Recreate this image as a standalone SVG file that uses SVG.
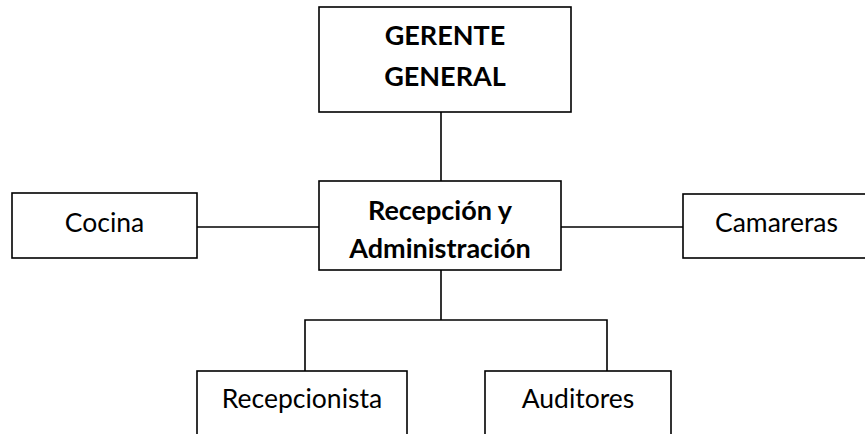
<svg xmlns="http://www.w3.org/2000/svg" width="865" height="434" viewBox="0 0 865 434">
<style>
.box{fill:#fff;stroke:#000;stroke-width:1.6}
.ln{fill:none;stroke:#000;stroke-width:1.6}
text{font-family:Lato,"Liberation Sans",sans-serif;font-size:26.5px;fill:#000;text-anchor:middle}
.b{font-weight:bold;font-size:27px}
</style>
<rect width="865" height="434" fill="#fff"/>
<g id="connectors">
<line class="ln" x1="441" y1="112" x2="441" y2="181"/>
<line class="ln" x1="197" y1="227" x2="319" y2="227"/>
<line class="ln" x1="561" y1="227" x2="683" y2="227"/>
<line class="ln" x1="441" y1="270" x2="441" y2="320"/>
<polyline class="ln" points="305,371 305,320 607,320 607,371"/>
</g>
<g id="gerente">
<rect class="box" x="319" y="7" width="252" height="105"/>
<text class="b" x="445" y="45">GERENTE</text>
<text class="b" x="445" y="86">GENERAL</text>
</g>
<g id="recepcion">
<rect class="box" x="319" y="181" width="242" height="89"/>
<text class="b" x="440" y="220">Recepción y</text>
<text class="b" x="440" y="258">Administración</text>
</g>
<g id="cocina">
<rect class="box" x="12" y="193" width="185" height="65"/>
<text x="104.5" y="232">Cocina</text>
</g>
<g id="camareras">
<rect class="box" x="683" y="194" width="190" height="64"/>
<text x="776.5" y="232">Camareras</text>
</g>
<g id="recepcionista">
<rect class="box" x="197" y="371" width="210" height="80"/>
<text x="302" y="408">Recepcionista</text>
</g>
<g id="auditores">
<rect class="box" x="485" y="371" width="186" height="80"/>
<text x="578" y="408">Auditores</text>
</g>
</svg>
